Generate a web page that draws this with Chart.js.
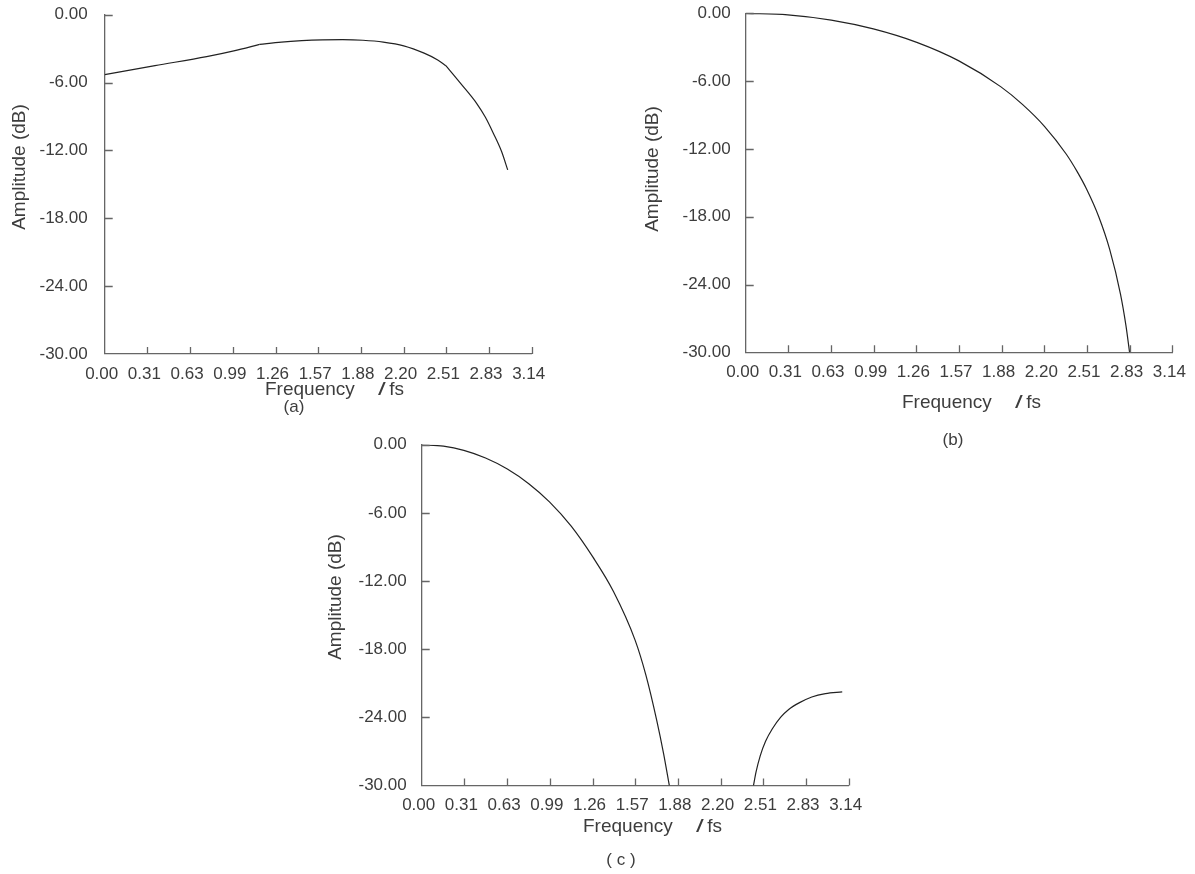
<!DOCTYPE html>
<html>
<head>
<meta charset="utf-8">
<script src="https://cdn.jsdelivr.net/npm/chart.js@4.4.1/dist/chart.umd.min.js"></script>
<style>
  body { margin: 0; background: #fff; }
  .panel { position: absolute; left: 0; top: 0; width: 1195px; height: 874px; }
</style>
</head>
<body>
<div class="panel"><canvas id="chartA"></canvas></div>
<div class="panel"><canvas id="chartB"></canvas></div>
<div class="panel"><canvas id="chartC"></canvas></div>
<script>
// tick labels (ticks sit at i * pi / 10)
var xTickLabels = ["0.00", "0.31", "0.63", "0.99", "1.26", "1.57", "1.88", "2.20", "2.51", "2.83", "3.14"];

// (a) - curve has corners at ~1.14 and ~2.51
var freqA = [0, 0.37, 0.75, 0.95, 1.14, 1.30, 1.45, 1.60, 1.75, 1.90, 2.05, 2.20, 2.35, 2.45, 2.51,
             2.62, 2.74, 2.80, 2.86, 2.92, 2.965];
var ampA = [-5.30, -4.50, -3.71, -3.20, -2.62, -2.42, -2.30, -2.23, -2.21, -2.26, -2.42, -2.75, -3.40, -4.00, -4.51,
            -6.10, -7.90, -9.05, -10.50, -12.10, -13.72];
var cornersA = [4, 14]; // indices of the corners

// (b)
var freqB = [0, 0.31, 0.63, 0.94, 1.26, 1.57, 1.88, 2.04, 2.20, 2.36, 2.44, 2.51, 2.60, 2.68, 2.76, 2.80, 2.827];
var ampB = [0, -0.14, -0.60, -1.38, -2.57, -4.21, -6.51, -8.08, -10.0, -12.45, -13.99, -15.55, -18.0, -20.87, -24.85, -27.62, -30];

// (c) main lobe + side lobe
var freqC1 = [0, 0.16, 0.31, 0.47, 0.63, 0.79, 0.94, 1.10, 1.26, 1.41, 1.57, 1.65, 1.73, 1.78, 1.822];
var ampC1 = [0, -0.13, -0.50, -1.17, -2.14, -3.45, -5.03, -7.17, -9.9, -12.9, -17.2, -20.3, -24.3, -27.2, -30];
var freqC2 = [2.441, 2.46, 2.49, 2.53, 2.58, 2.64, 2.70, 2.78, 2.87, 2.97, 3.094];
var ampC2 = [-30, -28.8, -27.4, -26.1, -25.0, -24.0, -23.3, -22.7, -22.2, -21.9, -21.75];

var FONT = "'Liberation Sans', Arial, sans-serif";
var TEXT = "#3d3d3d";
var AXIS = "#666";

function pts(xs, ys) {
  return xs.map(function (x, i) { return { x: x, y: ys[i] }; });
}

function lineSet(xs, ys) {
  return {
    data: pts(xs, ys),
    borderColor: "#222",
    borderWidth: 1.2,
    pointRadius: 0,
    fill: false,
    cubicInterpolationMode: "monotone",
  };
}

// split a curve at its corners so each piece is smoothed on its own
function cornerSets(xs, ys, corners) {
  var cuts = [0].concat(corners, [xs.length - 1]);
  var out = [];
  for (var i = 0; i < cuts.length - 1; i++) {
    out.push(lineSet(xs.slice(cuts[i], cuts[i + 1] + 1), ys.slice(cuts[i], cuts[i + 1] + 1)));
  }
  return out;
}

// little ticks pointing into the plot, like the original figure
var innerTicks = {
  id: "innerTicks",
  afterDraw: function (chart) {
    var ctx = chart.ctx, area = chart.chartArea;
    var xs = chart.scales.x, ys = chart.scales.y;
    ctx.save();
    ctx.strokeStyle = AXIS;
    ctx.lineWidth = 1.3;
    ctx.beginPath();
    xs.ticks.forEach(function (t, i) {
      if (i === 0) return;
      var px = Math.round(xs.getPixelForValue(t.value)) + 0.5;
      ctx.moveTo(px, area.bottom);
      ctx.lineTo(px, area.bottom - 7);
    });
    ys.ticks.forEach(function (t) {
      if (t.value === -30) return;
      var py = Math.round(ys.getPixelForValue(t.value)) + 0.5;
      ctx.moveTo(area.left, py);
      ctx.lineTo(area.left + 8, py);
    });
    ctx.stroke();
    ctx.restore();
  },
};

// axis titles and panel caption
var panelText = {
  id: "panelText",
  afterDraw: function (chart) {
    var o = chart.options.plugins.panelText;
    var ctx = chart.ctx;
    ctx.save();
    ctx.fillStyle = TEXT;
    ctx.textBaseline = "middle";

    ctx.save();
    ctx.translate(o.yTitle[0], o.yTitle[1]);
    ctx.rotate(-Math.PI / 2);
    ctx.textAlign = "center";
    ctx.font = "19px " + FONT;
    ctx.fillText("Amplitude (dB)", 0, 0);
    ctx.restore();

    ctx.textAlign = "left";
    ctx.font = "19px " + FONT;
    ctx.fillText("Frequency", o.xTitle[0], o.xTitle[1]);
    var sx = o.xTitle[0] + ctx.measureText("Frequency").width + 24;
    ctx.font = "bold italic 19px " + FONT;
    ctx.fillText("/", sx, o.xTitle[1]);
    sx += ctx.measureText("/").width;
    ctx.font = "19px " + FONT;
    ctx.fillText(" fs", sx, o.xTitle[1]);

    ctx.textAlign = "center";
    ctx.font = "17px " + FONT;
    ctx.fillText(o.caption[0], o.caption[1], o.caption[2]);
    ctx.restore();
  },
};

function makeChart(id, datasets, box, text) {
  var ctx = document.getElementById(id).getContext("2d");
  return new Chart(ctx, {
    type: "line",
    data: { datasets: datasets },
    options: {
      responsive: true,
      maintainAspectRatio: false,
      animation: false,
      layout: {
        padding: { left: 0, top: box.top, right: 1195 - box.right, bottom: 874 - box.bottom - 40 },
      },
      plugins: {
        legend: { display: false },
        tooltip: { enabled: false },
        panelText: text,
      },
      scales: {
        x: {
          type: "linear",
          min: 0,
          max: Math.PI,
          afterBuildTicks: function (scale) {
            scale.ticks = xTickLabels.map(function (l, i) { return { value: i * Math.PI / 10 }; });
          },
          afterFit: function (scale) {
            scale.height = 40;
            scale.paddingLeft = 0;
            scale.paddingRight = 0;
          },
          grid: { drawOnChartArea: false, drawTicks: false },
          border: { color: AXIS, width: 1.3 },
          ticks: {
            autoSkip: false,
            maxRotation: 0,
            padding: 10,
            labelOffset: -3,
            color: TEXT,
            font: { family: FONT, size: 17 },
            callback: function (v, i) { return xTickLabels[i]; },
          },
        },
        y: {
          min: -30,
          max: 0,
          afterFit: function (scale) {
            scale.width = box.left;
            scale.paddingTop = 0;
            scale.paddingBottom = 0;
          },
          grid: { drawOnChartArea: false, drawTicks: false },
          border: { color: AXIS, width: 1.3 },
          ticks: {
            stepSize: 6,
            padding: box.pad,
            color: TEXT,
            font: { family: FONT, size: 17 },
            callback: function (v) { return v.toFixed(2); },
          },
        },
      },
    },
    plugins: [innerTicks, panelText],
  });
}

makeChart("chartA", cornerSets(freqA, ampA, cornersA),
  { left: 104.7, top: 14.7, right: 531.7, bottom: 354, pad: 17 },
  { yTitle: [20, 167], xTitle: [265, 390], caption: ["(a)", 294, 407] });

makeChart("chartB", [lineSet(freqB, ampB)],
  { left: 745.7, top: 13.3, right: 1172.3, bottom: 352.3, pad: 15 },
  { yTitle: [653, 169], xTitle: [902, 403], caption: ["(b)", 953, 440] });

makeChart("chartC", [lineSet(freqC1, ampC1), lineSet(freqC2, ampC2)],
  { left: 421.7, top: 444.7, right: 848.7, bottom: 785.6, pad: 15 },
  { yTitle: [336, 597], xTitle: [583, 827], caption: ["( c )", 621, 860] });
</script>
</body>
</html>
